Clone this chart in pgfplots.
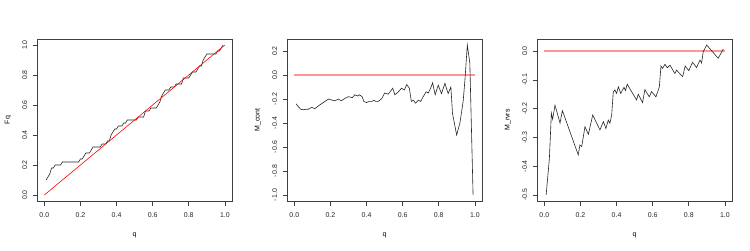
\documentclass[border=0pt]{standalone}
\usepackage{fontspec}
\setmainfont{Liberation Sans}
\usepackage{pgfplots}
\pgfplotsset{compat=1.18}
\definecolor{pinkred}{RGB}{255,150,150}
\pgfplotsset{
  rpanel/.style={
    scale only axis, width=195bp, height=162bp,
    xmin=-0.04, xmax=1.04,
    axis line style={black!75, line width=0.6bp},
    tick style={black!75, line width=0.6bp},
    tick align=outside, major tick length=4.5bp,
    xtick pos=bottom, ytick pos=left,
    xtick={0,0.2,0.4,0.6,0.8,1.0},
    /pgf/number format/assume math mode=true,
    /pgf/number format/fixed, /pgf/number format/fixed zerofill,
    /pgf/number format/precision=1,
    font=\fontsize{7}{8}\selectfont,
    ticklabel style={font=\fontsize{7}{8}\selectfont, text=black!85},
    yticklabel style={rotate=90, anchor=south},
    xticklabel shift=4bp, yticklabel shift=2bp,
    xlabel={q},
    xlabel style={at={(axis description cs:0.5,-0.215)}, anchor=center},
    ylabel style={at={(axis description cs:-0.15,0.5)}, rotate=0, anchor=center},
    every axis plot/.append style={line width=0.6bp},
  }
}
\begin{document}
\begin{tikzpicture}[x=1bp,y=1bp]
\useasboundingbox (0,0) rectangle (750,250);
% Panel 1
\begin{axis}[rpanel, at={(37.1bp,49bp)}, anchor=south west,
  ymin=-0.04, ymax=1.04, ytick={0,0.2,0.4,0.6,0.8,1.0}, ylabel={Fq}]
\addplot[black!85] coordinates {
(0.01,0.10)(0.02,0.12)(0.03,0.14)(0.04,0.18)(0.05,0.18)(0.06,0.20)(0.09,0.20)(0.10,0.22)(0.19,0.22)(0.20,0.24)(0.21,0.24)(0.22,0.26)(0.23,0.28)(0.25,0.28)(0.26,0.30)(0.27,0.32)(0.31,0.32)(0.32,0.34)(0.34,0.34)(0.35,0.36)(0.36,0.36)(0.37,0.40)(0.38,0.42)(0.39,0.44)(0.40,0.44)(0.41,0.46)(0.43,0.46)(0.44,0.48)(0.45,0.48)(0.46,0.50)(0.51,0.50)(0.52,0.52)(0.55,0.52)(0.56,0.56)(0.58,0.56)(0.59,0.58)(0.62,0.58)(0.63,0.60)(0.64,0.62)(0.65,0.66)(0.66,0.68)(0.67,0.70)(0.69,0.70)(0.70,0.72)(0.72,0.72)(0.73,0.74)(0.76,0.74)(0.77,0.78)(0.80,0.78)(0.81,0.80)(0.82,0.82)(0.84,0.82)(0.85,0.84)(0.86,0.86)(0.87,0.86)(0.88,0.90)(0.89,0.92)(0.90,0.94)(0.95,0.94)(0.96,0.96)(0.97,0.96)(0.98,0.98)(0.99,1.00)
};
\addplot[red] coordinates {(0,0)(1,1)};
\end{axis}
% Panel 2
\begin{axis}[rpanel, at={(287.1bp,49bp)}, anchor=south west,
  ymin=-1.05, ymax=0.30, ytick={-1.0,-0.8,-0.6,-0.4,-0.2,0,0.2}, ylabel={M\_cont}]
\addplot[pinkred, line width=1.7bp] coordinates {(0,0)(1,0)};
\addplot[black!85] coordinates {
(0.01,-0.24)(0.02,-0.26)(0.035,-0.285)(0.05,-0.29)(0.065,-0.285)(0.077,-0.285)(0.096,-0.27)(0.114,-0.28)(0.14,-0.25)(0.17,-0.22)(0.19,-0.20)(0.21,-0.21)(0.225,-0.215)(0.245,-0.20)(0.26,-0.215)(0.28,-0.195)(0.30,-0.18)(0.32,-0.19)(0.335,-0.165)(0.35,-0.175)(0.36,-0.165)(0.375,-0.18)(0.385,-0.22)(0.40,-0.23)(0.415,-0.22)(0.43,-0.22)(0.44,-0.21)(0.45,-0.22)(0.465,-0.22)(0.485,-0.195)(0.50,-0.15)(0.52,-0.16)(0.545,-0.11)(0.557,-0.165)(0.576,-0.14)(0.594,-0.11)(0.61,-0.125)(0.622,-0.08)(0.637,-0.11)(0.648,-0.22)(0.659,-0.21)(0.672,-0.235)(0.686,-0.21)(0.70,-0.22)(0.714,-0.18)(0.73,-0.14)(0.742,-0.15)(0.755,-0.11)(0.766,-0.065)(0.78,-0.165)(0.797,-0.085)(0.815,-0.155)(0.834,-0.07)(0.852,-0.155)(0.867,-0.10)(0.876,-0.32)(0.899,-0.50)(0.917,-0.40)(0.935,-0.22)(0.945,-0.04)(0.958,0.25)(0.972,0.10)(0.99,-1.0)
};
\end{axis}
% Panel 3
\begin{axis}[rpanel, at={(537.1bp,49bp)}, anchor=south west,
  ymin=-0.521, ymax=0.042, ytick={-0.5,-0.4,-0.3,-0.2,-0.1,0}, ylabel={M\_rvrs}]
\addplot[pinkred, line width=1.7bp] coordinates {(0,0)(1,0)};
\addplot[black!85] coordinates {
(0.01,-0.50)(0.028,-0.373)(0.039,-0.216)(0.046,-0.237)(0.059,-0.188)(0.087,-0.25)(0.10,-0.207)(0.188,-0.361)(0.197,-0.326)(0.207,-0.332)(0.225,-0.263)(0.244,-0.289)(0.268,-0.222)(0.308,-0.274)(0.327,-0.245)(0.341,-0.269)(0.354,-0.24)(0.363,-0.251)(0.373,-0.222)(0.382,-0.141)(0.391,-0.135)(0.40,-0.147)(0.41,-0.124)(0.423,-0.147)(0.441,-0.126)(0.45,-0.137)(0.459,-0.115)(0.511,-0.17)(0.52,-0.15)(0.544,-0.179)(0.557,-0.134)(0.581,-0.159)(0.594,-0.141)(0.618,-0.159)(0.637,-0.124)(0.646,-0.052)(0.655,-0.06)(0.668,-0.046)(0.681,-0.058)(0.696,-0.049)(0.723,-0.078)(0.732,-0.066)(0.766,-0.089)(0.78,-0.052)(0.80,-0.068)(0.821,-0.039)(0.843,-0.057)(0.862,-0.031)(0.871,-0.041)(0.88,-0.002)(0.899,0.021)(0.963,-0.025)(0.991,0.007)
};
\end{axis}
\end{tikzpicture}
\end{document}
